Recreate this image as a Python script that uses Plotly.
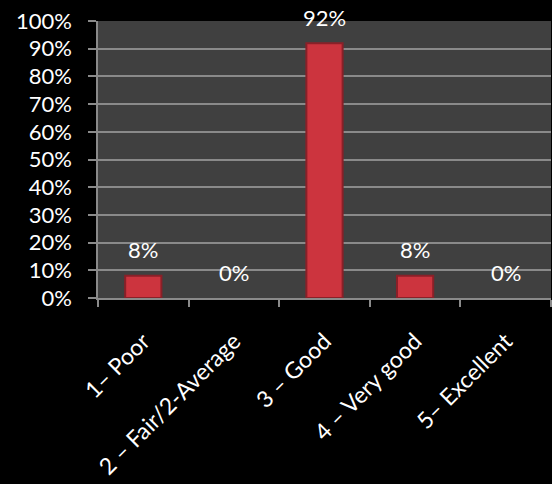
import plotly.graph_objects as go

categories = ["1– Poor", "2 – Fair/2-Average", "3 – Good", "4 – Very good", "5– Excellent"]
values = [8, 0, 92, 8, 0]
value_labels = ["8%", "0%", "92%", "8%", "0%"]
y_ticks = [0, 10, 20, 30, 40, 50, 60, 70, 80, 90, 100]
y_tick_labels = [f"{v}%" for v in y_ticks]

FONT = "Lato, 'Open Sans', sans-serif"
FS = 22

fig = go.Figure()
fig.add_trace(go.Bar(
    x=categories, y=values,
    width=0.4,
    marker=dict(color="#cc343e",
                line=dict(color="#8a2028", width=[2 if v > 0 else 0 for v in values])),
    hoverinfo="skip",
))

for c, v, t in zip(categories, values, value_labels):
    fig.add_annotation(x=c, y=v, text=t, showarrow=False, yanchor="middle",
                       yshift=26, font=dict(family=FONT, size=FS, color="white"))

fig.update_layout(
    width=552, height=484,
    paper_bgcolor="black", plot_bgcolor="#404040",
    margin=dict(l=98, r=1, t=21, b=186),
    showlegend=False,
    font=dict(family=FONT, size=FS, color="white"),
)
fig.update_yaxes(range=[0, 100], tickvals=y_ticks, ticktext=y_tick_labels,
                 showgrid=True, gridcolor="#8a8a8a", gridwidth=1.5,
                 showline=True, linecolor="#8a8a8a", linewidth=1.5,
                 ticks="outside", ticklen=8, tickcolor="#8a8a8a", tickwidth=1.5,
                 zeroline=False, ticklabelstandoff=12, automargin=False,
                 tickfont=dict(family=FONT, size=FS, color="white"))
fig.update_xaxes(tickangle=-45, showline=True, linecolor="#8a8a8a", linewidth=1.5,
                 ticks="outside", ticklen=7, tickcolor="#8a8a8a", tickwidth=1.5,
                 tickson="boundaries", showgrid=False, ticklabelstandoff=19,
                 automargin=False,
                 tickfont=dict(family=FONT, size=23, color="white"))

fig.write_html("out.html", config={"displayModeBar": False},
               post_script="document.body.style.margin='0';document.body.style.background='black';")
